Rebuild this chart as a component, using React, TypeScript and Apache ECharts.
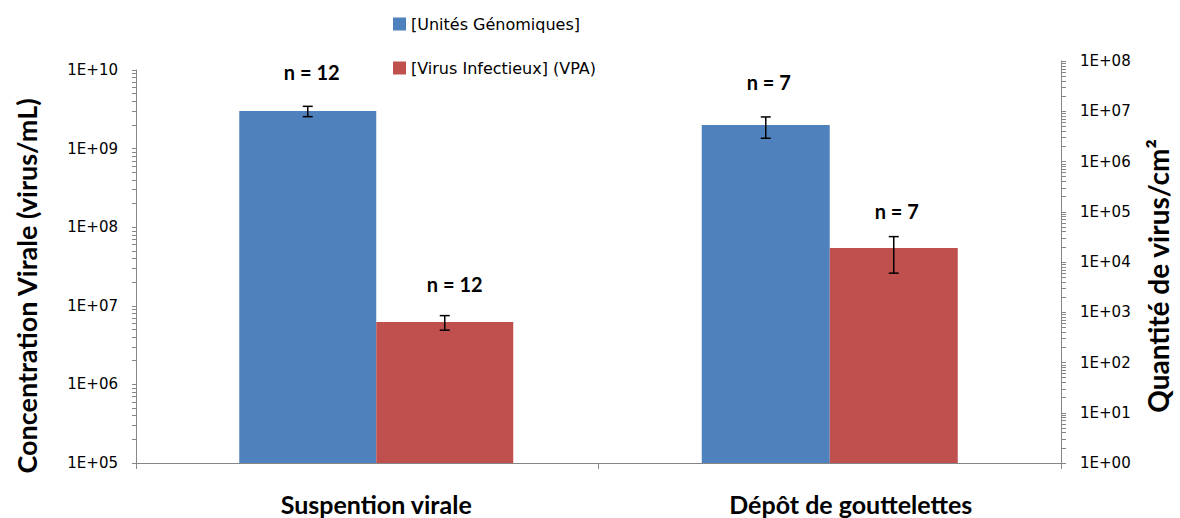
import React, { useEffect, useRef } from 'react';
import * as echarts from 'echarts';

// ---- data ----
const categories = ['Suspention virale', 'Dépôt de gouttelettes'];
const seriesNames = ['[Unités Génomiques]', '[Virus Infectieux] (VPA)'];
// "Suspention virale" is read on the left axis (virus/mL),
// "Dépôt de gouttelettes" on the right axis (virus/cm²)
const genomicUnits = [3.0e9, 5.3e6];
const genomicErr = [0.45e9, 2.4e6];
const infectiousVirus = [6.2e6, 1.9e4];
const infectiousErr = [1.3e6, 1.3e4];
const sampleSizes = [12, 7];
const leftRange = [1e5, 1e10];
const rightRange = [1e0, 1e8];

const BLUE = '#4F81BD';
const RED = '#C0504D';
const AXIS = '#868686';

function logTicks(min: number, max: number): number[] {
  const out: number[] = [];
  for (let d = min; d < max * 0.999; d *= 10) {
    for (let k = 1; k < 10; k++) out.push(d * k);
  }
  out.push(max);
  return out;
}

const sciFmt = (v: number) => {
  const e = Math.round(Math.log10(v));
  return '1E+' + String(e).padStart(2, '0');
};

export default function App() {
  const ref = useRef<HTMLDivElement>(null);
  useEffect(() => {
    if (!ref.current) return;
    const chart = echarts.init(ref.current, undefined, { renderer: 'svg' });

    const barHalfA = 68.5;
    const barHalfB = 64;
    const labelDist = [[29, 28], [33, 27]]; // [category][series]
    const labelOffX = [[4, 10], [3, 3]];

    const makeBarData = (vals: number[], catIdx: number, sIdx: number) =>
      vals.map((v, i) =>
        i === catIdx
          ? {
              value: v,
              label: {
                show: true,
                formatter: 'n = ' + sampleSizes[i],
                position: 'top',
                distance: labelDist[i][sIdx],
                offset: [labelOffX[i][sIdx], 0],
                fontFamily: 'Lato',
                fontWeight: 'bold',
                fontSize: 20,
                lineHeight: 20,
                color: '#000',
              },
            }
          : '-'
      );

    const errData = (vals: number[], errs: number[], catIdx: number, side: number) => [
      [catIdx, vals[catIdx], errs[catIdx], side],
    ];

    const errRender = (half: number) => (params: any, api: any) => {
      const cat = api.value(0);
      const v = api.value(1);
      const e = api.value(2);
      const side = api.value(3);
      const top = api.coord([cat, v + e]);
      const bot = api.coord([cat, v - e]);
      const x = top[0] + side * half;
      const st = { stroke: '#000', lineWidth: 1.5 };
      return {
        type: 'group',
        children: [
          { type: 'line', shape: { x1: x, y1: top[1], x2: x, y2: bot[1] }, style: st },
          { type: 'line', shape: { x1: x - 5, y1: top[1], x2: x + 5, y2: top[1] }, style: st },
          { type: 'line', shape: { x1: x - 5, y1: bot[1], x2: x + 5, y2: bot[1] }, style: st },
        ],
      };
    };

    const tickLabel = { fontFamily: 'DejaVu Sans', fontSize: 15, color: '#000' };

    chart.setOption({
      animation: false,
      backgroundColor: '#fff',
      legend: {
        orient: 'vertical',
        left: 393,
        top: 16,
        padding: 0,
        itemWidth: 13,
        itemHeight: 13,
        itemGap: 28,
        icon: 'rect',
        selectedMode: false,
        data: seriesNames,
        textStyle: { fontFamily: 'DejaVu Sans', fontSize: 16, lineHeight: 16, color: '#000' },
      },
      grid: [
        { left: 145, right: 110, top: 70, bottom: 55 },
        { left: 136, right: 119, top: 61, bottom: 55 },
      ],
      xAxis: [
        {
          type: 'category',
          gridIndex: 0,
          data: [
            categories[0],
            { value: categories[1], textStyle: { padding: [0, 0, 0, 24] } },
          ],
          axisLine: { show: false },
          axisTick: { show: false },
          axisLabel: {
            margin: 28,
            fontFamily: 'Lato',
            fontWeight: 'bold',
            fontSize: 25,
            color: '#000',
          },
        },
        {
          type: 'category',
          gridIndex: 1,
          data: categories,
          axisLine: { lineStyle: { color: AXIS, width: 1 } },
          axisTick: { show: true, length: 6, lineStyle: { color: AXIS } },
          axisLabel: { show: false },
        },
      ],
      yAxis: [
        {
          type: 'log',
          gridIndex: 0,
          logBase: 10,
          min: leftRange[0],
          max: leftRange[1],
          position: 'left',
          offset: 9,
          axisLine: { show: true, lineStyle: { color: AXIS, width: 1 } },
          axisTick: {
            show: true,
            length: 4,
            lineStyle: { color: AXIS },
            customValues: logTicks(leftRange[0], leftRange[1]),
          },
          axisLabel: { ...tickLabel, margin: 18, formatter: sciFmt },
          splitLine: { show: false },
        },
        {
          type: 'log',
          gridIndex: 1,
          logBase: 10,
          min: rightRange[0],
          max: rightRange[1],
          position: 'right',
          axisLine: { show: true, lineStyle: { color: AXIS, width: 1 } },
          axisTick: {
            show: true,
            length: 5,
            lineStyle: { color: AXIS },
            customValues: logTicks(rightRange[0], rightRange[1]),
          },
          axisLabel: { ...tickLabel, margin: 19, formatter: sciFmt },
          splitLine: { show: false },
        },
      ],
      graphic: [
        {
          type: 'text',
          x: 26,
          y: 286,
          rotation: Math.PI / 2,
          style: {
            text: 'Concentration Virale (virus/mL)',
            font: 'bold 27px Lato',
            fill: '#000',
            align: 'center',
            verticalAlign: 'middle',
          },
        },
        {
          type: 'text',
          x: 1158,
          y: 276,
          rotation: Math.PI / 2,
          style: {
            text: 'Quantité de virus/cm²',
            font: 'bold 28px Lato',
            fill: '#000',
            align: 'center',
            verticalAlign: 'middle',
          },
        },
      ],
      series: [
        {
          name: seriesNames[0],
          type: 'bar',
          xAxisIndex: 0,
          yAxisIndex: 0,
          barWidth: 137,
          barGap: 0,
          itemStyle: { color: BLUE },
          data: makeBarData(genomicUnits, 0, 0),
        },
        {
          name: seriesNames[1],
          type: 'bar',
          xAxisIndex: 0,
          yAxisIndex: 0,
          barWidth: 137,
          barGap: 0,
          itemStyle: { color: RED },
          data: makeBarData(infectiousVirus, 0, 1),
        },
        {
          name: seriesNames[0],
          type: 'bar',
          xAxisIndex: 1,
          yAxisIndex: 1,
          barWidth: 128,
          barGap: 0,
          itemStyle: { color: BLUE },
          data: makeBarData(genomicUnits, 1, 0),
        },
        {
          name: seriesNames[1],
          type: 'bar',
          xAxisIndex: 1,
          yAxisIndex: 1,
          barWidth: 128,
          barGap: 0,
          itemStyle: { color: RED },
          data: makeBarData(infectiousVirus, 1, 1),
        },
        {
          type: 'custom',
          xAxisIndex: 0,
          yAxisIndex: 0,
          z: 5,
          renderItem: errRender(barHalfA),
          data: [
            ...errData(genomicUnits, genomicErr, 0, -1),
            ...errData(infectiousVirus, infectiousErr, 0, 1),
          ],
        },
        {
          type: 'custom',
          xAxisIndex: 1,
          yAxisIndex: 1,
          z: 5,
          renderItem: errRender(barHalfB),
          data: [
            ...errData(genomicUnits, genomicErr, 1, -1),
            ...errData(infectiousVirus, infectiousErr, 1, 1),
          ],
        },
      ],
    });
    return () => chart.dispose();
  }, []);

  return (
    <div
      ref={ref}
      style={{ position: 'fixed', left: 0, top: 0, width: 1180, height: 518 }}
    />
  );
}
